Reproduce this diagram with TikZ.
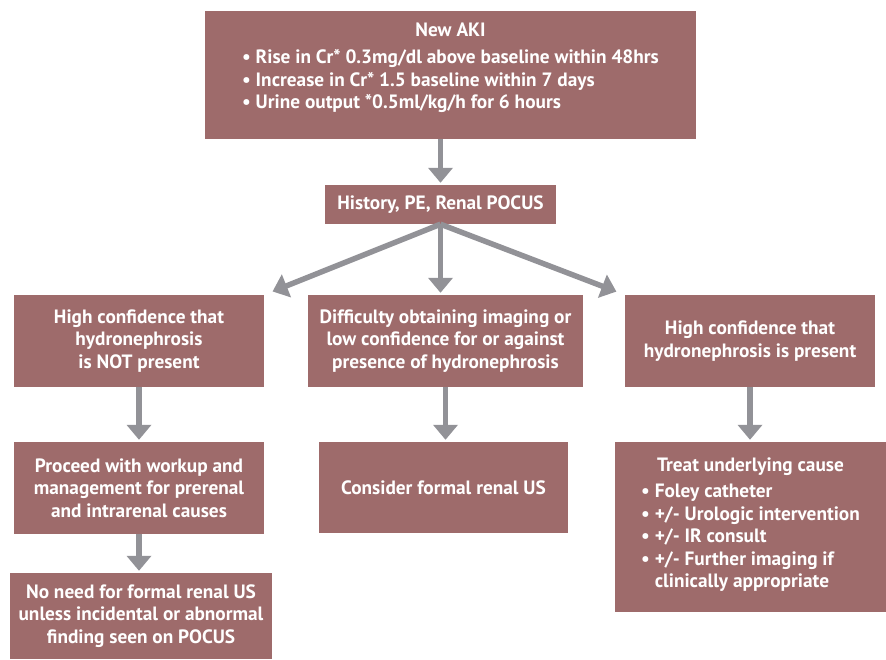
\documentclass[tikz,border=0pt]{standalone}
\usepackage{fontspec}
\setmainfont{PT Sans}
\usetikzlibrary{arrows.meta}
\definecolor{boxred}{HTML}{9E6B6B}
\definecolor{arrowgray}{HTML}{929297}

\begin{document}
\begin{tikzpicture}[x=1pt, y=-1pt,
    box/.style={rectangle, fill=boxred, text=white, align=center,
        inner sep=0pt, font=\bfseries\fontsize{19.3}{22.5}\selectfont},
    flow/.style={draw=arrowgray, line width=5.5pt,
        -{Triangle[width=24pt,length=15pt]}, shorten >=2pt}
]
    \useasboundingbox (0,0) rectangle (886,659);
    \node[box, minimum width=491pt, minimum height=128pt] (aki) at (450.5,75)
        {\begin{tabular}{@{}l@{}}
            \multicolumn{1}{@{}c@{}}{New AKI}\\[5pt]
            \textbullet~Rise in Cr* 0.3mg/dl above baseline within 48hrs\\
            \textbullet~Increase in Cr* 1.5 baseline within 7 days\\
            \textbullet~Urine output *0.5ml/kg/h for 6 hours\\[14pt]
        \end{tabular}};
    \node[box, minimum width=231pt, minimum height=39pt] (hist) at (440.5,204.5)
        {History, PE, Renal POCUS};
    \node[box, minimum width=250pt, minimum height=92pt] (notpres) at (139,341)
        {High confidence that\\hydronephrosis\\is NOT present};
    \node[box, minimum width=275pt, minimum height=92pt] (unsure) at (445.5,341)
        {Difficulty obtaining imaging or\\low confidence for or against\\presence of hydronephrosis};
    \node[box, minimum width=250pt, minimum height=92pt] (pres) at (750,341)
        {High confidence that\\hydronephrosis is present};
    \node[box, minimum width=250pt, minimum height=92pt] (workup) at (139,488)
        {Proceed with workup and\\management for prerenal\\and intrarenal causes};
    \node[box, minimum width=249pt, minimum height=91pt] (formal) at (443.5,487.5)
        {Consider formal renal US};
    \node[box, minimum width=271pt, minimum height=170pt] (treat) at (750.5,527)
        {\begin{tabular}{@{}l@{}}
            \multicolumn{1}{@{}c@{}}{Treat underlying cause}\\[4pt]
            \textbullet~Foley catheter\\
            \textbullet~+/- Urologic intervention\\
            \textbullet~+/- IR consult\\
            \textbullet~+/- Further imaging if\\
            \phantom{\textbullet~}clinically appropriate\\[4pt]
        \end{tabular}};
    \node[box, minimum width=262pt, minimum height=86pt] (noneed) at (141,616)
        {No need for formal renal US\\unless incidental or abnormal\\finding seen on POCUS};
    \draw[flow] (aki.south -| hist.north) -- (hist.north);
    \draw[flow, shorten >=9pt] (hist.south) -- (notpres.north east);
    \draw[flow] (hist.south) -- (hist.south |- unsure.north);
    \draw[flow, shorten >=9pt] (hist.south) -- (pres.north west);
    \draw[flow] (notpres.south) -- (workup.north);
    \draw[flow] (workup.south) -- (workup.south |- noneed.north);
    \draw[flow] (unsure.south) -- (unsure.south |- formal.north);
    \draw[flow] (pres.south) -- (pres.south |- treat.north);
\end{tikzpicture}
\end{document}
